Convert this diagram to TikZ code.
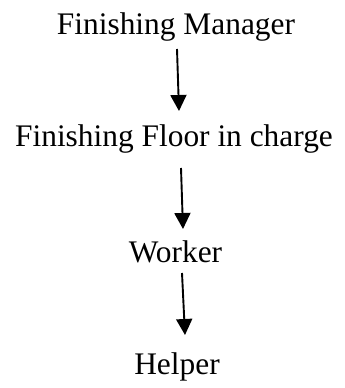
\documentclass[tikz,border=0pt]{standalone}
\usepackage{fontspec}
\setmainfont{Liberation Serif}
\usetikzlibrary{arrows.meta}
\begin{document}
\begin{tikzpicture}[x=1pt,y=1pt,
  label/.style={font=\fontsize{31.4}{36}\selectfont, anchor=base, inner sep=0pt},
  link/.style={line width=1.9pt, -{Triangle[length=16pt,width=16pt]}}]
  \useasboundingbox (0,0) rectangle (345,388);
  % chain of command
  \node[label] (mgr)    at (176,353) {Finishing Manager};
  \node[label] (floor)  at (174,241) {Finishing Floor in charge};
  \node[label] (worker) at (175.5,125) {Worker};
  \node[label] (helper) at (177,13) {Helper};
  % arrow end points
  \coordinate (a1s) at (177,339); \coordinate (a1e) at (179,277);
  \coordinate (a2s) at (181,220); \coordinate (a2e) at (183,159);
  \coordinate (a3s) at (182,115); \coordinate (a3e) at (185,53);
  \draw[link] (a1s) -- (a1e);
  \draw[link] (a2s) -- (a2e);
  \draw[link] (a3s) -- (a3e);
\end{tikzpicture}
\end{document}
